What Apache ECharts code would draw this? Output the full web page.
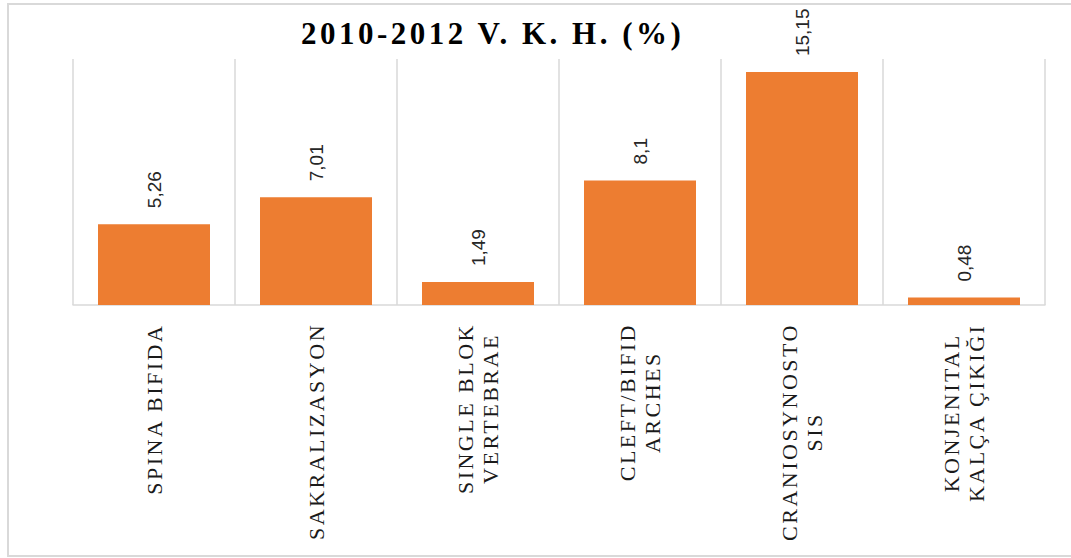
<!DOCTYPE html>
<html>
<head>
<meta charset="utf-8">
<script src="https://cdn.jsdelivr.net/npm/echarts@6/dist/echarts.min.js"></script>
<style>
  html, body { margin: 0; padding: 0; background: #fff; }
  #chart { width: 1071px; height: 558px; }
  /* Word-style letter spacing on the serif texts */
  #chart text[style*="Times"] { letter-spacing: 2.5px; }
  #chart text[style*="bold"] { letter-spacing: 3.5px; }
</style>
</head>
<body>
<div id="chart"></div>
<script>
const categories = [
  "SPINA BIFIDA",
  "SAKRALIZASYON",
  "SINGLE BLOK\nVERTEBRAE",
  "CLEFT/BIFID\nARCHES",
  "CRANIOSYNOSTO\nSIS",
  "KONJENITAL\nKALÇA ÇIKIĞI"
];
const values = [5.26, 7.01, 1.49, 8.1, 15.15, 0.48];

const labelFont = "'Liberation Serif', Times";
const labelSize = 22;
const labelSpacing = 2.5;

// measure the longest line so each centred label block ends at the axis
const ctx = document.createElement("canvas").getContext("2d");
ctx.font = labelSize + "px 'Liberation Serif'";
function blockWidth(text) {
  let w = 0;
  text.split("\n").forEach(line => {
    const lw = ctx.measureText(line).width + line.length * labelSpacing;
    if (lw > w) w = lw;
  });
  return w;
}

const axisData = categories.map(c => ({
  value: c,
  textStyle: { align: "center", padding: [0, blockWidth(c), 0, 0] }
}));

const chart = echarts.init(document.getElementById("chart"), null, { renderer: "svg" });

chart.setOption({
  animation: false,
  title: {
    text: "2010-2012 V. K. H. (%)",
    left: 296,
    top: 13,
    textStyle: {
      fontFamily: "'Liberation Serif', serif",
      fontWeight: "bold",
      fontSize: 31,
      color: "#000"
    }
  },
  graphic: [{
    type: "rect",
    shape: { x: 8, y: 4, width: 1100, height: 552 },
    style: { fill: "none", stroke: "#d9d9d9", lineWidth: 2 },
    silent: true
  }],
  grid: { left: 73, right: 26, top: 59, bottom: 253, outerBoundsMode: "none" },
  xAxis: {
    type: "category",
    data: axisData,
    axisLine: { lineStyle: { color: "#d9d9d9", width: 1.5 } },
    axisTick: { show: false },
    splitLine: { show: true, interval: 0, lineStyle: { color: "#d9d9d9", width: 1.5 } },
    axisLabel: {
      interval: 0,
      rotate: 90,
      align: "center",
      verticalAlign: "middle",
      margin: 18,
      fontFamily: labelFont,
      fontSize: labelSize,
      lineHeight: 25,
      color: "#1a1a1a"
    }
  },
  yAxis: {
    type: "value",
    min: 0,
    max: 16,
    show: false,
    splitLine: { show: false }
  },
  series: [{
    type: "bar",
    data: values,
    barWidth: 112,
    itemStyle: { color: "#ED7D31" },
    label: {
      show: true,
      position: "top",
      distance: 16,
      rotate: 90,
      align: "left",
      verticalAlign: "middle",
      fontFamily: "'Liberation Sans', Arial",
      fontSize: 19,
      color: "#262626",
      formatter: p => String(p.value).replace(".", ",")
    }
  }]
});
</script>
</body>
</html>
